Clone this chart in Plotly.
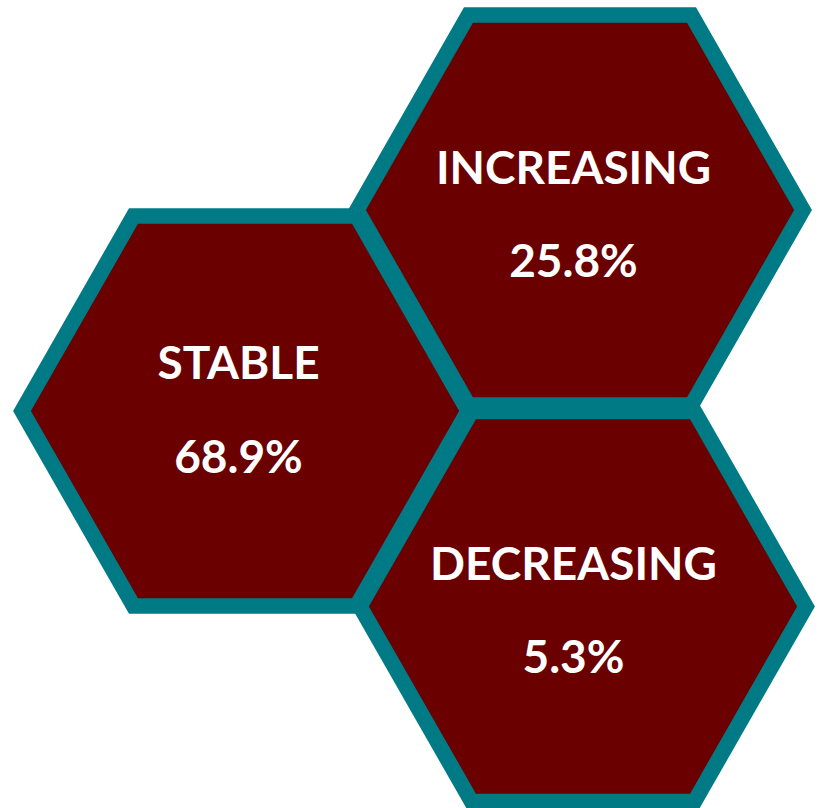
import plotly.graph_objects as go

# Trend categories and their shares
categories = ["STABLE", "INCREASING", "DECREASING"]
shares = [68.9, 25.8, 5.3]

# Hexagon centres (x, y) in canvas units, y measured downward
centre_x = [245, 580, 583]
centre_y = [411, 210, 606.5]

HALF_W = 223    # centre to left/right vertex
HALF_H = 195    # centre to flat top/bottom edge
FILL = "#6A0000"
EDGE = "#007B86"


def hexagon(cx, cy):
    # start on the middle of the top edge so the path's ends meet on a straight run
    xs = [cx, cx + HALF_W / 2, cx + HALF_W, cx + HALF_W / 2,
          cx - HALF_W / 2, cx - HALF_W, cx - HALF_W / 2, cx]
    ys = [cy - HALF_H, cy - HALF_H, cy, cy + HALF_H,
          cy + HALF_H, cy, cy - HALF_H, cy - HALF_H]
    return xs, ys


fig = go.Figure()

for cat, cx, cy in zip(categories, centre_x, centre_y):
    xs, ys = hexagon(cx, cy)
    fig.add_trace(go.Scatter(
        x=xs, y=ys, mode="lines", fill="toself", fillcolor=FILL,
        line=dict(color=EDGE, width=15.5), hoverinfo="skip", name=cat,
    ))

# Category names and percentage values inside each hexagon
label_dx = [-6.5, -6.5, -9.5]
label_dy = [-44, -38, -38]
value_dy = [50.5, 55, 55]

fig.add_trace(go.Scatter(
    x=[cx + dx for cx, dx in zip(centre_x, label_dx)],
    y=[cy + dy for cy, dy in zip(centre_y, label_dy)],
    mode="text", text=categories, textposition="middle center",
    textfont=dict(family="Lato", size=46, color="white", weight="bold"),
    hoverinfo="skip",
))
fig.add_trace(go.Scatter(
    x=[cx + dx for cx, dx in zip(centre_x, label_dx)],
    y=[cy + dy for cy, dy in zip(centre_y, value_dy)],
    mode="text", text=[f"{v:.1f}%" for v in shares], textposition="middle center",
    textfont=dict(family="Lato", size=46, color="white", weight="bold"),
    hoverinfo="skip",
))

fig.update_layout(
    width=820, height=808,
    margin=dict(l=0, r=0, t=0, b=0),
    paper_bgcolor="white", plot_bgcolor="white",
    showlegend=False,
    xaxis=dict(range=[0, 820], visible=False, fixedrange=True),
    yaxis=dict(range=[808, 0], visible=False, fixedrange=True),
)

fig.write_html("out.html")
